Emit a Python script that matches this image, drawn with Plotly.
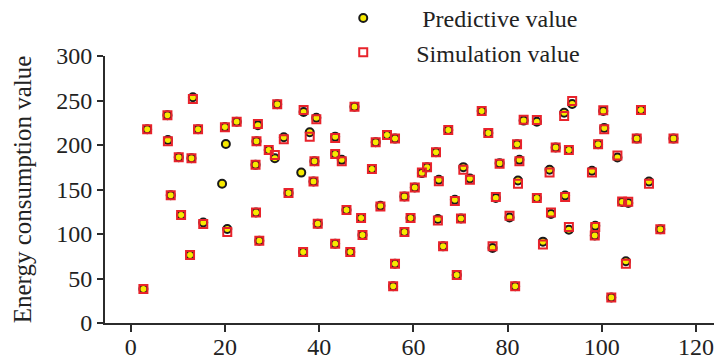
import plotly.graph_objects as go

# sample positions (x) and values
x_vals = [2.7, 3.5, 7.8, 7.9, 8.5, 10.2, 10.7, 12.6, 12.9, 13.2, 14.3, 15.4, 19.4, 20.2, 20.0,
          20.5, 22.5, 27.0, 26.7, 26.5, 26.6, 27.3, 29.3, 30.6, 31.1, 32.5, 33.5, 36.2, 36.7,
          36.6, 38.0, 39.4, 39.0, 38.8, 39.7, 43.4, 43.4, 44.8, 43.4, 45.8, 46.6, 47.5, 48.9,
          49.2, 51.2, 52.0, 53.0, 54.4, 56.1, 56.1, 55.7, 58.1, 58.1, 59.4, 60.3, 61.8, 62.9,
          64.8, 65.4, 65.2, 66.3, 67.4, 68.8, 69.2, 70.6, 70.1, 72.0, 74.5, 75.9, 76.8, 77.5,
          78.3, 80.4, 81.6, 82.0, 82.2, 82.5, 83.4, 86.2, 86.2, 87.5, 88.9, 89.2, 90.2, 92.0,
          92.2, 93.0, 93.0, 93.7, 97.9, 99.2, 98.6, 98.5, 100.3, 100.5, 102.0, 103.3, 104.3,
          105.6, 105.1, 107.4, 108.3, 110.0, 112.4, 115.2]

predictive = [38.3, 217.7, 233.4, 205.7, 143.5, 186.3, 121.3, 76.5, 185.2, 253.6, 217.7, 113.0,
              156.4, 201.2, 220.3, 105.6, 226.2, 222.2, 204.3, 177.7, 124.2, 92.5, 194.5, 185.2,
              245.7, 208.7, 146.0, 169.0, 237.1, 79.8, 214.3, 230.7, 181.8, 159.0, 111.5, 209.4,
              190.0, 183.3, 89.1, 126.9, 79.8, 243.0, 118.0, 98.9, 172.9, 203.1, 131.7, 211.3,
              207.2, 66.7, 41.3, 142.2, 102.2, 118.0, 152.2, 168.4, 175.1, 191.9, 160.9, 116.8,
              86.1, 216.9, 138.5, 54.0, 175.1, 117.5, 162.3, 238.2, 213.6, 84.3, 140.4, 179.6,
              118.6, 41.3, 200.9, 160.1, 183.3, 227.4, 226.2, 140.4, 91.4, 172.1, 122.4, 197.1,
              236.3, 143.3, 104.8, 194.5, 246.1, 171.0, 200.9, 109.3, 98.4, 238.2, 219.2, 28.6,
              185.9, 135.9, 134.8, 69.3, 207.2, 239.3, 159.0, 105.2, 207.2]

simulation = [38.3, 217.7, 233.4, 204.3, 143.5, 186.3, 121.3, 76.5, 185.2, 251.7, 217.7, 111.2,
              None, None, 220.0, 102.2, 226.2, 223.7, 204.3, 177.7, 124.2, 92.5, 194.5, 188.9,
              245.7, 206.5, 146.0, None, 239.3, 79.8, 209.4, 228.9, 181.8, 159.0, 111.5, 208.0,
              190.0, 181.8, 89.1, 126.9, 79.8, 243.0, 118.0, 98.9, 172.9, 203.1, 130.9, 211.3,
              207.2, 66.7, 41.3, 142.2, 102.2, 118.0, 152.2, 169.0, 175.1, 191.9, 159.4, 115.2,
              86.1, 216.9, 137.0, 54.0, 172.1, 117.5, 160.9, 238.2, 213.6, 86.1, 141.5, 178.8,
              120.5, 41.3, 200.9, 156.4, 181.8, 228.5, 228.1, 140.4, 88.3, 169.0, 124.2, 197.1,
              232.6, 141.5, 107.8, 194.5, 249.4, 169.0, 200.9, 107.8, 98.4, 239.0, 217.7, 28.6,
              188.1, 136.5, 136.2, 66.7, 207.2, 239.3, 156.4, 105.2, 207.2]

x_ticks = [0, 20, 40, 60, 80, 100, 120]
y_ticks = [0, 50, 100, 150, 200, 250, 300]

FONT = "Liberation Serif, Times New Roman, serif"
AXIS_COLOR = "#2b2b2b"
TEXT_COLOR = "#222"

fig = go.Figure()
fig.add_trace(go.Scatter(
    x=x_vals, y=predictive, mode="markers", name="\u00a0Predictive value",
    marker=dict(symbol="circle", size=8, color="#f7ea00",
                line=dict(color="#1a1a1a", width=2)),
))
fig.add_trace(go.Scatter(
    x=x_vals, y=simulation, mode="markers", name="Simulation value",
    marker=dict(symbol="square", size=8, color="rgba(0,0,0,0)",
                line=dict(color="#e8232b", width=2)),
))

fig.update_layout(
    width=714, height=363,
    margin=dict(l=105, r=0, t=56, b=40, autoexpand=False),
    paper_bgcolor="white", plot_bgcolor="white",
    font=dict(family=FONT, size=24, color=TEXT_COLOR),
    showlegend=True,
    legend=dict(x=0.337, y=1.225, xanchor="left", yanchor="top",
                bgcolor="rgba(0,0,0,0)", itemwidth=96,
                font=dict(family=FONT, size=24, color=TEXT_COLOR),
                tracegroupgap=0),
    xaxis=dict(range=[-5.45, 123.8], tickvals=x_ticks, ticktext=[str(v) for v in x_ticks],
               showgrid=False, zeroline=False, showline=True, linecolor=AXIS_COLOR,
               linewidth=2, ticks="outside", ticklen=7, tickwidth=2, tickcolor=AXIS_COLOR,
               ticklabeloverflow="allow", ticklabelstandoff=-6,
               tickfont=dict(family=FONT, size=24, color=TEXT_COLOR)),
    yaxis=dict(range=[0, 300], tickvals=y_ticks, ticktext=[str(v) for v in y_ticks],
               showgrid=False, zeroline=False, showline=True, linecolor=AXIS_COLOR,
               linewidth=2, ticks="outside", ticklen=6, tickwidth=2, tickcolor=AXIS_COLOR,
               ticklabeloverflow="allow",
               tickfont=dict(family=FONT, size=24, color=TEXT_COLOR),
               title=dict(text="Energy consumption value", standoff=17,
                          font=dict(family=FONT, size=25, color=TEXT_COLOR))),
)

fig.write_html("out.html")
